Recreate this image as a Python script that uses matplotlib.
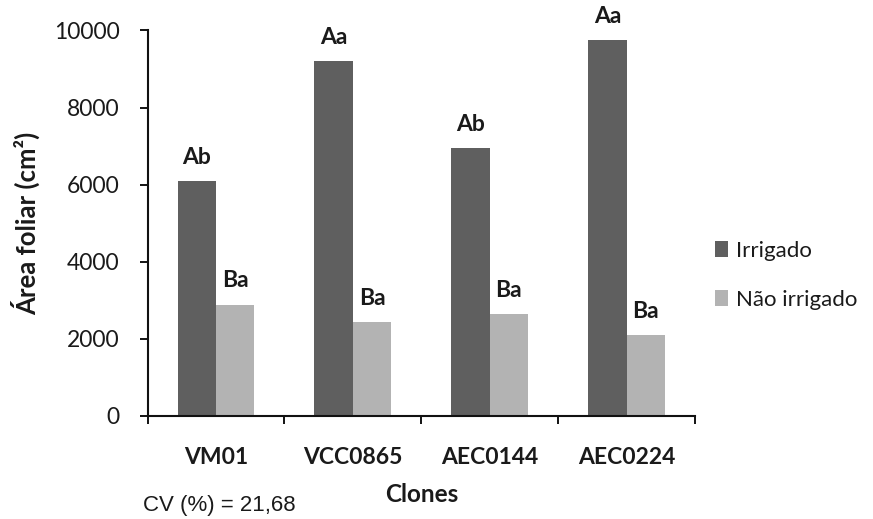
import matplotlib
matplotlib.use("Agg")
import matplotlib.pyplot as plt
import numpy as np

clones = ["VM01", "VCC0865", "AEC0144", "AEC0224"]
irrigado = [6090, 9200, 6940, 9750]
nao_irrigado = [2880, 2430, 2640, 2100]
lab_irrigado = ["Ab", "Aa", "Ab", "Aa"]
lab_nao = ["Ba", "Ba", "Ba", "Ba"]
series_names = ["Irrigado", "Não irrigado"]
yticks = [0, 2000, 4000, 6000, 8000, 10000]

FONT = ["Lato", "DejaVu Sans"]
plt.rcParams["font.family"] = FONT
TXT = "#1a1a1a"

fig = plt.figure(figsize=(8.73, 5.19), dpi=100)
ax = fig.add_axes([147.5/873, 1-416/519, (695-147.5)/873, (416-30.4)/519])

x = np.arange(len(clones))
w = 0.28
ax.bar(x - w/2, irrigado, w, color="#5f5f5f", label=series_names[0])
ax.bar(x + w/2, nao_irrigado, w, color="#b3b3b3", label=series_names[1])

for xi, v, t in zip(x, irrigado, lab_irrigado):
    ax.text(xi - w/2, v + 350, t, ha="center", va="bottom", fontsize=16.5,
            fontweight="bold", color=TXT)
for xi, v, t in zip(x, nao_irrigado, lab_nao):
    ax.text(xi + w/2, v + 350, t, ha="center", va="bottom", fontsize=16.5,
            fontweight="bold", color=TXT)

ax.set_xlim(-0.5, len(clones) - 0.5)
ax.set_ylim(0, 10000)
ax.set_yticks(yticks)
ax.set_yticklabels([str(t) for t in yticks], fontsize=16.5, color=TXT)
ax.set_xticks(x)
ax.set_xticklabels(clones, fontsize=16.5, fontweight="bold", color=TXT)
ax.tick_params(axis="x", which="major", length=0, pad=22)
ax.set_xticks(np.arange(-0.5, len(clones)), minor=True)
ax.tick_params(axis="x", which="minor", length=6, width=1.3, direction="out")
ax.tick_params(axis="y", length=6, width=1.3, direction="out", pad=14)

for s in ["top", "right"]:
    ax.spines[s].set_visible(False)
for s in ["left", "bottom"]:
    ax.spines[s].set_linewidth(1.5)
    ax.spines[s].set_color("#111111")

ax.set_ylabel("Área foliar (cm²)", fontsize=18.5, fontweight="bold", color=TXT,
              labelpad=10)
ax.set_xlabel("Clones", fontsize=17.5, fontweight="bold", color=TXT, labelpad=11)

leg = ax.legend(loc="center left", bbox_to_anchor=(1.0, 0.365), frameon=False,
                fontsize=16, handlelength=0.6, handleheight=0.7,
                handletextpad=0.35, labelspacing=1.3, labelcolor=TXT)

fig.text(143/873, 1-511/519, "CV (%) = 21,68", fontsize=16, color=TXT,
         ha="left", va="baseline", family=["Liberation Sans"])

fig.savefig("out.png", dpi=100, facecolor="white")
